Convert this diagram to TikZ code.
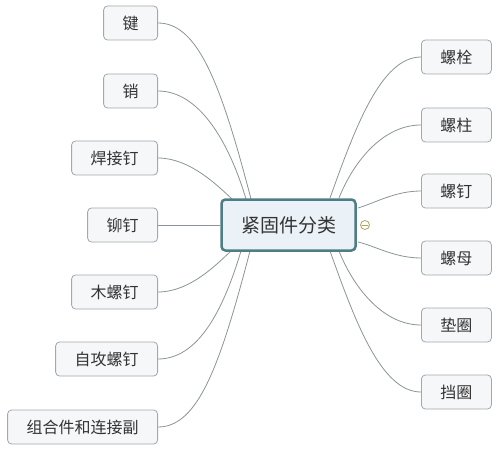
\documentclass[tikz,border=0pt]{standalone}
\usepackage{fontspec}
\setmainfont{Noto Sans CJK SC}
\definecolor{leafline}{HTML}{A2A8AE}
\definecolor{leaffill}{HTML}{F6F7F9}
\definecolor{rootline}{HTML}{4F7D85}
\definecolor{rootfill}{HTML}{EAF2F8}
\definecolor{branchc}{HTML}{8C9499}
\definecolor{markc}{HTML}{ABA65E}
\definecolor{textc}{HTML}{333333}
\begin{document}
\begin{tikzpicture}[x=1pt, y=-1pt, line join=round, line cap=round,
 leaf/.style={draw=leafline, fill=leaffill, rounded corners=4pt, line width=0.8pt, minimum height=34pt, inner xsep=19pt, inner ysep=0pt, text=textc, font=\fontsize{16}{19}\selectfont},
 root/.style={draw=rootline, fill=rootfill, rounded corners=4pt, line width=2.5pt, minimum width=134pt, minimum height=51pt, text=textc, font=\fontsize{19}{23}\selectfont},
 branch/.style={draw=branchc, line width=0.8pt}]
 \fill[white] (0,0) rectangle (500,449);
 \useasboundingbox (0,0) rectangle (500,449);
 % left and right leaves
 \foreach \t/\y [count=\i] in {键/23, 销/91, 焊接钉/158, 铆钉/225, 木螺钉/292, 自攻螺钉/359, 组合件和连接副/427}
 \node[leaf, anchor=east] (l\i) at (158,\y) {\t};
 \foreach \t/\y [count=\i] in {螺栓/57, 螺柱/125, 螺钉/191, 螺母/258, 垫圈/325, 挡圈/392}
 \node[leaf, anchor=west] (r\i) at (421,\y) {\t};
 % ends on the root box
 \coordinate (t1) at (251,199);\coordinate (t2) at (246,199);\coordinate (t3) at (232,199);
 \coordinate (b1) at (231,251);\coordinate (b2) at (241,251);\coordinate (b3) at (250,251);
 \coordinate (u1) at (330,198);\coordinate (u2) at (339,198);\coordinate (u3) at (358,208);
 \coordinate (d1) at (358,242);\coordinate (d2) at (339,251);\coordinate (d3) at (330,251);
 \draw[branch] (l1.east) .. controls +(40,0) and +(-30,-115) .. (t1);
 \draw[branch] (l2.east) .. controls +(40,0) and +(-18,-60) .. (t2);
 \draw[branch] (l3.east) .. controls +(32,0) and +(-14,-13) .. (t3);
 \draw[branch] (l5.east) .. controls +(32,0) and +(-14,13) .. (b1);
 \draw[branch] (l6.east) .. controls +(40,0) and +(-18,60) .. (b2);
 \draw[branch] (l7.east) .. controls +(40,0) and +(-30,115) .. (b3);
 \draw[branch] (r1.west) .. controls +(-40,0) and +(25,-70) .. (u1);
 \draw[branch] (r2.west) .. controls +(-40,0) and +(13,-33) .. (u2);
 \draw[branch] (r3.west) .. controls +(-26,0) and +(17,-5) .. (u3);
 \draw[branch] (r4.west) .. controls +(-26,0) and +(17,4) .. (d1);
 \draw[branch] (r5.west) .. controls +(-40,0) and +(13,33) .. (d2);
 \draw[branch] (r6.west) .. controls +(-40,0) and +(25,70) .. (d3);
 % root
 \node[root] (c) at (288.5,225) {紧固件分类};
 \draw[branch] (l4.east) -- (c.west);
 \node[circle, draw=markc, fill=white, line width=0.8pt, minimum size=9pt, inner sep=0pt] (m) at (365,225) {};
 \draw[markc, line width=0.8pt] ([xshift=2pt]m.west) -- ([xshift=-2pt]m.east);
\end{tikzpicture}
\end{document}
